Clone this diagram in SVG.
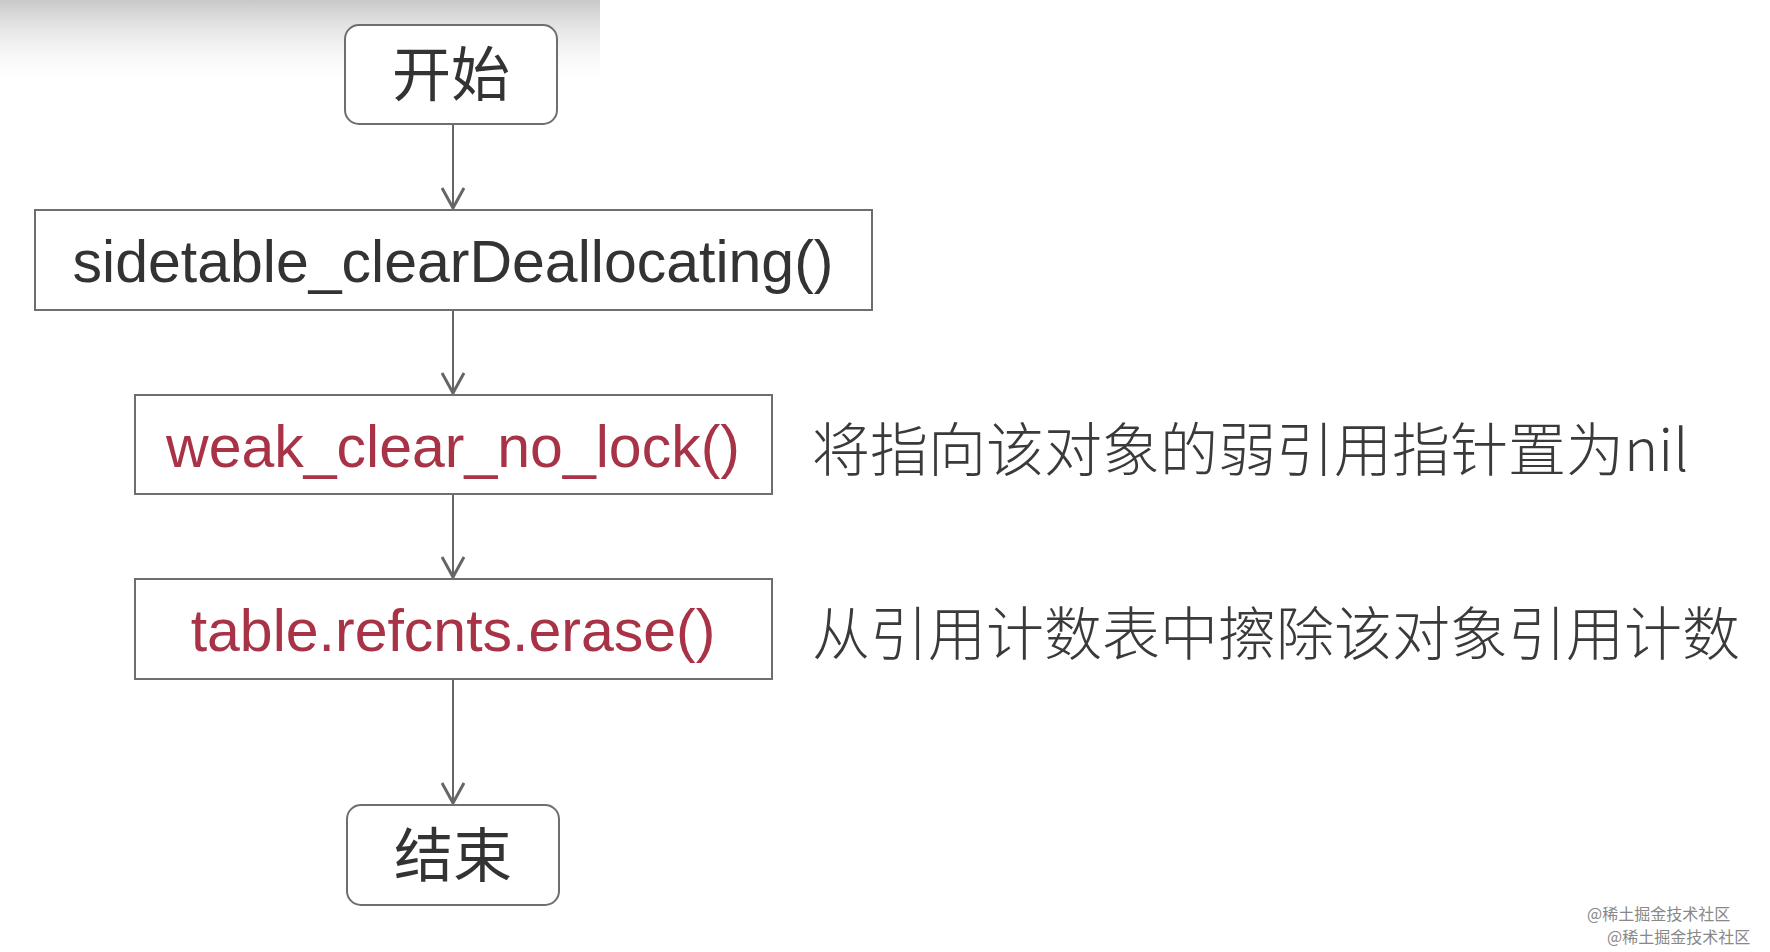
<svg xmlns="http://www.w3.org/2000/svg" width="1770" height="952" viewBox="0 0 1770 952">
<defs>
<style>
.box{fill:#fff;stroke:#6e6e6e;stroke-width:2}
.t{font-family:"Liberation Sans","Noto Sans CJK SC",sans-serif;font-size:59px;text-anchor:middle;fill:#333}
.red{fill:#a83347}
.side{font-family:"Noto Sans CJK SC",sans-serif;font-size:58px;fill:#3a3a3a;font-weight:300}
.wm{font-family:"Noto Sans CJK SC",sans-serif;font-size:16px;fill:#888}
.c{stroke:#666;stroke-width:2;fill:none}
</style>
<marker id="ah" markerWidth="24" markerHeight="24" refX="22" refY="12" orient="auto" markerUnits="userSpaceOnUse" viewBox="0 0 24 24">
<path d="M2,1 L22,12 L2,23" fill="none" stroke="#666" stroke-width="3"/>
</marker>
<linearGradient id="sh" x1="0" y1="0" x2="0" y2="1">
<stop offset="0" stop-color="#bbb" stop-opacity="0.8"/><stop offset="1" stop-color="#fff" stop-opacity="0"/>
</linearGradient>
</defs>
<rect width="1770" height="952" fill="#fff"/>
<rect x="0" y="0" width="600" height="90" fill="url(#sh)"/>
<g id="connectors">
<path class="c" d="M453,124 V208" marker-end="url(#ah)"/>
<path class="c" d="M453,310 V393" marker-end="url(#ah)"/>
<path class="c" d="M453,494 V577" marker-end="url(#ah)"/>
<path class="c" d="M453,679 V803" marker-end="url(#ah)"/>
</g>
<g id="start"><rect class="box" x="345" y="25" width="212" height="99" rx="14"/><text class="t" x="451" y="96" font-size="57">开始</text></g>
<g id="sidetable"><rect class="box" x="35" y="210" width="837" height="100"/><text class="t" x="453" y="282">sidetable_clearDeallocating()</text></g>
<g id="weak"><rect class="box" x="135" y="395" width="637" height="99"/><text class="t red" x="453" y="467">weak_clear_no_lock()</text></g>
<text class="side" x="812" y="471">将指向该对象的弱引用指针置为nil</text>
<g id="table"><rect class="box" x="135" y="579" width="637" height="100"/><text class="t red" x="453" y="651">table.refcnts.erase()</text></g>
<text class="side" x="812" y="655">从引用计数表中擦除该对象引用计数</text>
<g id="end"><rect class="box" x="347" y="805" width="212" height="100" rx="14"/><text class="t" x="453" y="877" font-size="57">结束</text></g>
<text class="wm" x="1587" y="920">@稀土掘金技术社区</text>
<text class="wm" x="1607" y="943">@稀土掘金技术社区</text>
</svg>
